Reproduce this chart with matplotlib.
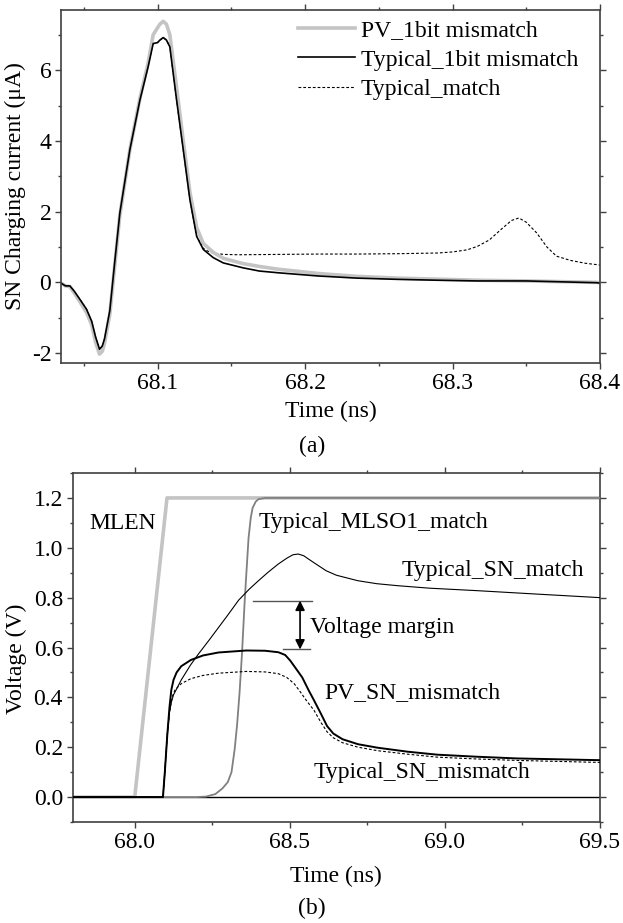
import numpy as np
import matplotlib
matplotlib.use('Agg')
import matplotlib.pyplot as plt
from matplotlib.ticker import MultipleLocator, FormatStrFormatter

plt.rcParams['font.family'] = ['Liberation Serif', 'DejaVu Serif']
plt.rcParams['font.size'] = 17
plt.rcParams['axes.unicode_minus'] = False

# ---- (a) SN charging current ----
t_a = [68.0337, 68.0375, 68.0405, 68.0435, 68.0473, 68.0518, 68.0553, 68.058, 68.0606,
       68.0625, 68.064, 68.0676, 68.071, 68.0744, 68.0812, 68.088, 68.0936, 68.097,
       68.1, 68.1016, 68.1038, 68.106, 68.1083, 68.1129, 68.1174, 68.1219, 68.1265,
       68.131, 68.1377, 68.1445, 68.158, 68.169, 68.182, 68.209, 68.235, 68.2625,
       68.29, 68.317, 68.35, 68.3975, 68.4]
typ_1bit = [0.0, -0.1, -0.1, -0.25, -0.48, -0.76, -1.1, -1.55, -1.89,
            -1.8, -1.6, -0.8, 0.6, 1.96, 3.75, 5.15, 6.1, 6.75,
            6.78, 6.85, 6.92, 6.85, 6.66, 5.15, 3.75, 2.34, 1.3,
            0.93, 0.7, 0.55, 0.41, 0.32, 0.27, 0.18, 0.12, 0.085,
            0.06, 0.04, 0.04, -0.01, -0.02]
pv_1bit = [0.0, -0.1, -0.12, -0.3, -0.55, -0.85, -1.2, -1.7, -2.03,
           -1.95, -1.72, -0.9, 0.5, 1.9, 3.75, 5.2, 6.2, 7.0,
           7.2, 7.3, 7.38, 7.3, 7.0, 5.5, 4.0, 2.55, 1.55,
           1.1, 0.85, 0.68, 0.53, 0.45, 0.37, 0.25, 0.17, 0.12,
           0.09, 0.06, 0.04, 0.0, -0.01]
t_match = [68.0337, 68.0375, 68.0405, 68.0435, 68.0473, 68.0518, 68.0553, 68.058, 68.0606,
           68.0625, 68.064, 68.0676, 68.071, 68.0744, 68.0812, 68.088, 68.0936, 68.097,
           68.1, 68.1016, 68.1038, 68.106, 68.1083, 68.1129, 68.1174, 68.1219, 68.1265,
           68.131, 68.135, 68.139, 68.145, 68.155, 68.182, 68.209, 68.235, 68.2625,
           68.29, 68.3, 68.31, 68.317, 68.325, 68.333, 68.34, 68.345, 68.35,
           68.357, 68.364, 68.3705, 68.38, 68.39, 68.4]
typ_match = [0.0, -0.1, -0.1, -0.25, -0.48, -0.76, -1.1, -1.55, -1.89,
             -1.8, -1.6, -0.8, 0.6, 1.96, 3.75, 5.15, 6.1, 6.75,
             6.78, 6.85, 6.92, 6.85, 6.66, 5.15, 3.75, 2.34, 1.3,
             0.96, 0.86, 0.82, 0.79, 0.78, 0.79, 0.8, 0.8, 0.81,
             0.83, 0.86, 0.92, 1.02, 1.2, 1.5, 1.75, 1.82, 1.7,
             1.4, 1.0, 0.74, 0.62, 0.54, 0.49]

# ---- (b) voltages ----
t_mlen = [67.8, 68.0, 68.104, 69.5]
v_mlen = [0, 0, 1.2, 1.2]
t_mlso = [67.8, 68.2, 68.23, 68.26, 68.283, 68.3, 68.312, 68.322, 68.33,
          68.338, 68.346, 68.354, 68.36, 68.367, 68.374, 68.38, 68.39, 68.399,
          68.42, 69.5]
v_mlso = [0, 0, 0.002, 0.012, 0.035, 0.06, 0.1, 0.19, 0.29,
          0.42, 0.58, 0.775, 0.9, 1.04, 1.12, 1.16, 1.185, 1.195,
          1.2, 1.2]
t_pv_sn = [67.8, 68.091, 68.097, 68.105, 68.112, 68.118, 68.125, 68.135, 68.15,
           68.181, 68.22, 68.27, 68.36, 68.42, 68.463, 68.485, 68.501, 68.52,
           68.54, 68.56, 68.578, 68.6, 68.62, 68.64, 68.67, 68.72, 68.783,
           68.88, 68.976, 69.1, 69.232, 69.5]
v_pv_sn = [0, 0, 0.1, 0.25, 0.36, 0.43, 0.47, 0.5, 0.525,
           0.55, 0.568, 0.58, 0.588, 0.587, 0.581, 0.57, 0.548, 0.515,
           0.48, 0.43, 0.388, 0.335, 0.285, 0.255, 0.232, 0.212, 0.198,
           0.182, 0.17, 0.162, 0.155, 0.148]
t_typ_mis = [67.8, 68.091, 68.097, 68.105, 68.112, 68.12, 68.13, 68.15, 68.181,
             68.22, 68.27, 68.36, 68.42, 68.463, 68.49, 68.514, 68.535, 68.553,
             68.578, 68.6, 68.62, 68.64, 68.67, 68.72, 68.783, 68.88, 68.976,
             69.1, 69.232, 69.5]
v_typ_mis = [0, 0, 0.1, 0.25, 0.34, 0.40, 0.43, 0.455, 0.475,
             0.488, 0.497, 0.504, 0.502, 0.495, 0.48, 0.455, 0.42, 0.388,
             0.348, 0.3, 0.262, 0.238, 0.218, 0.2, 0.186, 0.172, 0.16,
             0.153, 0.147, 0.139]
t_typ_sn = [67.8, 68.091, 68.097, 68.105, 68.112, 68.118, 68.125, 68.15, 68.18,
            68.206, 68.24, 68.27, 68.3, 68.335, 68.37, 68.399, 68.43, 68.463,
            68.49, 68.51, 68.527, 68.545, 68.56, 68.578, 68.6, 68.617, 68.65,
            68.719, 68.78, 68.847, 68.95, 69.104, 69.3, 69.5]
v_typ_sn = [0, 0, 0.1, 0.25, 0.34, 0.38, 0.41, 0.47, 0.53,
            0.575, 0.63, 0.68, 0.73, 0.79, 0.835, 0.868, 0.902, 0.935,
            0.958, 0.972, 0.975, 0.968, 0.955, 0.94, 0.922, 0.908, 0.89,
            0.868, 0.856, 0.848, 0.838, 0.828, 0.814, 0.80]

LGRAY = '#c4c4c4'
MGRAY = '#808080'
SPINE = '#404040'


def style_axes(ax):
    for s in ax.spines.values():
        s.set_color(SPINE)
        s.set_linewidth(1.2)
    ax.tick_params(which='both', direction='out', top=True, right=True,
                   color=SPINE, width=1.0)
    ax.tick_params(which='major', length=4, pad=3)
    ax.tick_params(which='minor', length=2.5)


fig = plt.figure(figsize=(6.23, 9.23), dpi=100)

# (a)
ax1 = fig.add_axes([61 / 623, 1 - 363 / 923, 539 / 623, 353 / 923])
ax1.plot(t_a, pv_1bit, color=LGRAY, lw=2.6, label='PV_1bit mismatch')
ax1.plot(t_a, typ_1bit, color='black', lw=1.2, label='Typical_1bit mismatch')
ax1.plot(t_match, typ_match, color='black', lw=0.8, ls=(0, (2.5, 1.8)),
         label='Typical_match', zorder=1.5)
ax1.set_xlim(68.0345, 68.4)
ax1.set_ylim(-2.28, 7.7)
ax1.xaxis.set_major_locator(MultipleLocator(0.1))
ax1.xaxis.set_minor_locator(MultipleLocator(0.05))
ax1.xaxis.set_major_formatter(FormatStrFormatter('%.1f'))
ax1.yaxis.set_major_locator(MultipleLocator(2))
ax1.yaxis.set_minor_locator(MultipleLocator(1))
style_axes(ax1)
ax1.set_xlabel('Time (ns)', va='center')
ax1.xaxis.set_label_coords(0.5, -0.138)
ax1.set_ylabel('SN Charging current (μA)', va='center')
ax1.yaxis.set_label_coords(-0.085, 0.5)
ax1.legend(loc='upper left', bbox_to_anchor=(0.44, 0.972), frameon=False,
           borderpad=0, borderaxespad=0, handlelength=2.4, handletextpad=0.25,
           labelspacing=0.33)
fig.text(312 / 623, 1 - 446.7 / 923, '(a)', ha='center', va='center')

# (b)
ax2 = fig.add_axes([72.7 / 623, 1 - 822 / 923, 527.3 / 623, 349 / 923])
ax2.axhline(0, color='black', lw=1.0, zorder=1)
ax2.plot(t_mlen, v_mlen, color=LGRAY, lw=2.6, zorder=2)
ax2.plot(t_mlso, v_mlso, color=MGRAY, lw=1.3, zorder=3)
ax2.plot(t_typ_sn, v_typ_sn, color='black', lw=0.8, zorder=4)
ax2.plot(t_typ_mis, v_typ_mis, color='black', lw=0.8, ls=(0, (2.5, 1.8)), zorder=4)
ax2.plot(t_pv_sn, v_pv_sn, color='black', lw=1.4, zorder=5)
ax2.set_xlim(67.8, 69.5)
ax2.set_ylim(-0.1, 1.3)
ax2.xaxis.set_major_locator(MultipleLocator(0.5))
ax2.xaxis.set_minor_locator(MultipleLocator(0.25))
ax2.xaxis.set_major_formatter(FormatStrFormatter('%.1f'))
ax2.yaxis.set_major_locator(MultipleLocator(0.2))
ax2.yaxis.set_minor_locator(MultipleLocator(0.1))
ax2.yaxis.set_major_formatter(FormatStrFormatter('%.1f'))
style_axes(ax2)
ax2.set_xlabel('Time (ns)', va='center')
ax2.xaxis.set_label_coords(0.5, -0.157)
ax2.set_ylabel('Voltage (V)', va='center')
ax2.yaxis.set_label_coords(-0.1075, 0.467)

# voltage margin marker
ax2.plot([68.381, 68.571], [0.788, 0.788], color='#555555', lw=1.0)
ax2.plot([68.478, 68.565], [0.592, 0.592], color='#555555', lw=1.0)
ax2.annotate('', xy=(68.533, 0.788), xytext=(68.533, 0.592),
             arrowprops=dict(arrowstyle='<|-|>', color='black', lw=1.2,
                             mutation_scale=14, shrinkA=0, shrinkB=0))
ax2.text(68.565, 0.68, 'Voltage margin', ha='left', va='center')
ax2.text(67.854, 1.096, 'MLEN', ha='left', va='center')
ax2.text(68.399, 1.10, 'Typical_MLSO1_match', ha='left', va='center')
ax2.text(68.86, 0.908, 'Typical_SN_match', ha='left', va='center')
ax2.text(68.61, 0.42, 'PV_SN_mismatch', ha='left', va='center')
ax2.text(68.578, 0.10, 'Typical_SN_mismatch', ha='left', va='center')
fig.text(312 / 623, 1 - 908 / 923, '(b)', ha='center', va='center')

fig.savefig('out.png', dpi=100)
